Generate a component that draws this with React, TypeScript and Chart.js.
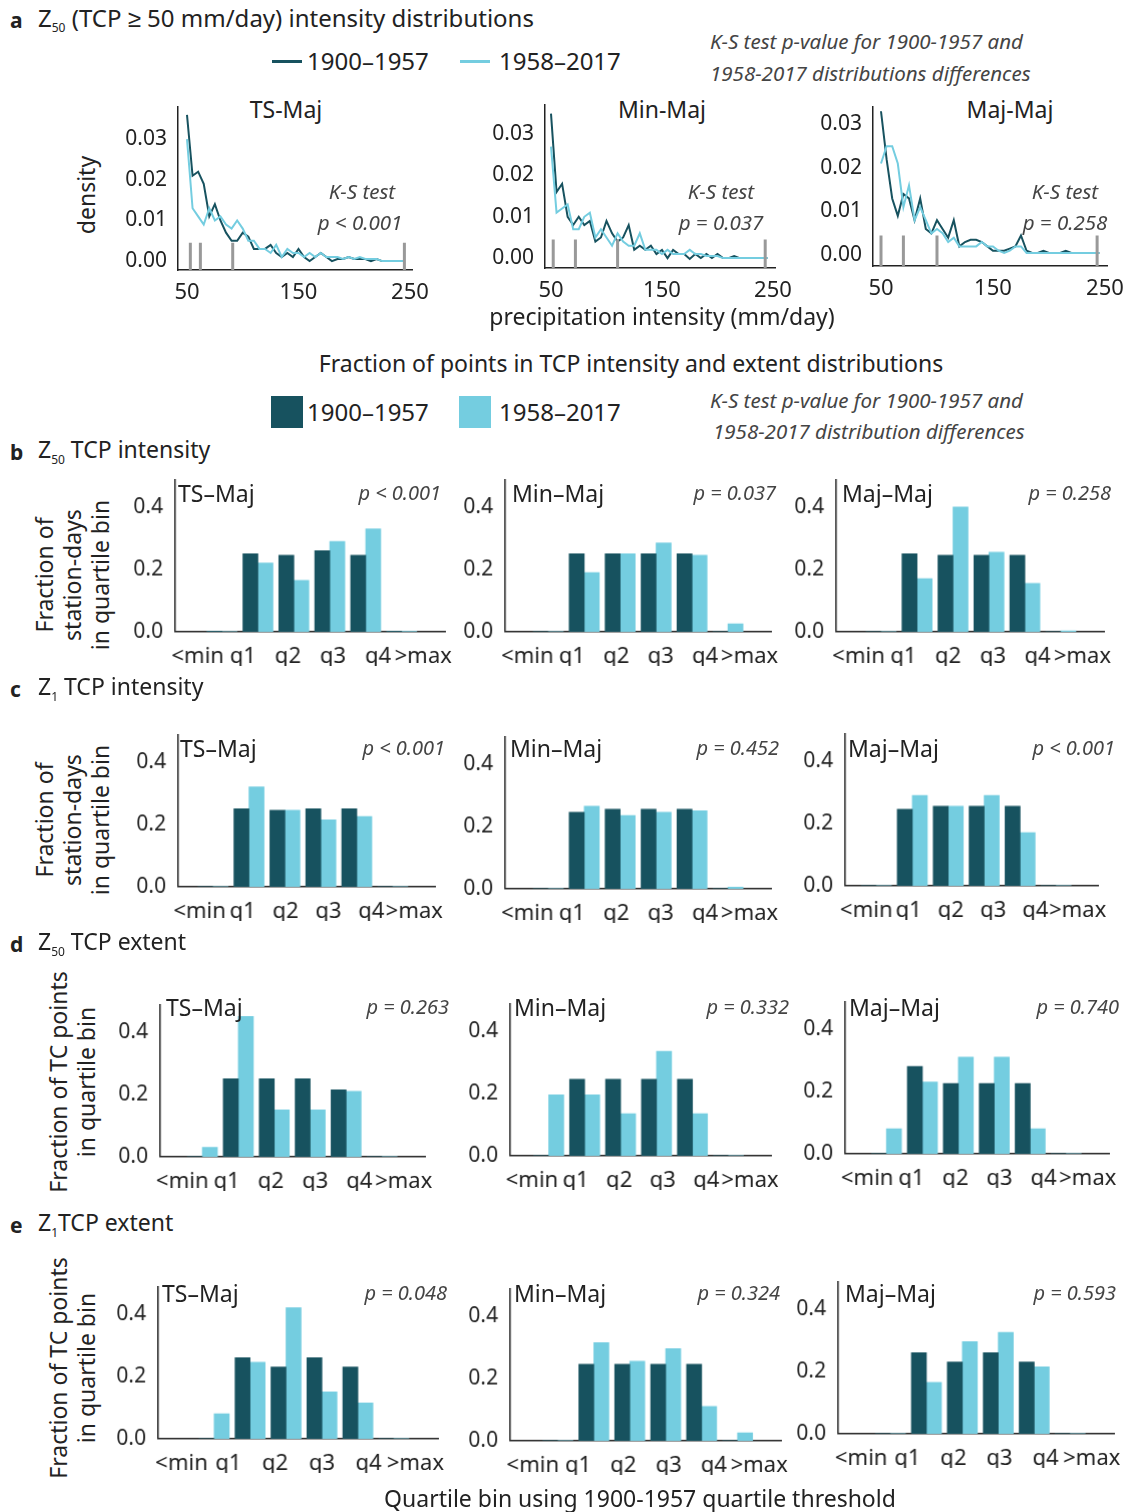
import React, { useEffect, useRef } from "react";
import { Chart, registerables } from "chart.js";
Chart.register(...registerables);

const DARK = "#17525f";
const LIGHT = "#74cde0";
const FONT = "'Noto Sans', sans-serif";
const TXT = "#222";

// ---- Panel a data (x from 50 to 245 step 5)
const xs = [50,55,60,65,70,75,80,85,90,95,100,105,110,115,120,125,130,135,140,145,150,155,160,165,170,175,180,185,190,195,200,205,210,215,220,225,230,235,240,245];
const tsDark = [0.036,0.021,0.022,0.019,0.011,0.014,0.010,0.007,0.005,0.005,0.007,0.006,0.003,0.003,0.003,0.004,0.002,0.001,0.002,0.001,0.003,0.001,0.000,0.001,0.002,0.001,0.000,0.0005,0.0005,0.001,0.0005,0.0005,0.0005,0,0.0005,0,0,0,0,0];
const tsLight = [0.030,0.013,0.011,0.009,0.013,0.010,0.011,0.009,0.008,0.010,0.008,0.005,0.005,0.003,0.003,0.002,0.004,0.001,0.003,0.002,0.002,0.001,0.002,0.001,0.002,0.001,0.001,0.001,0.0005,0.001,0.0005,0.001,0.0005,0.0005,0.0005,0,0,0,0,0];
const minDark = [0.035,0.016,0.018,0.010,0.008,0.010,0.008,0.009,0.004,0.005,0.009,0.006,0.004,0.005,0.008,0.002,0.003,0.002,0.003,0.001,0.002,0.000,0.002,0.001,0.001,-0.0002,0.001,0.000,0.001,0.000,0.001,0.000,0,0.0005,0,0,0,0,0,0];
const minLight = [0.027,0.011,0.012,0.013,0.007,0.007,0.010,0.011,0.005,0.007,0.005,0.003,0.006,0.004,0.003,0.003,0.006,0.002,0.002,0.002,0.001,0.002,0.001,0.001,0.001,0.002,0.001,0.001,0.0005,0.0005,0.0005,0,0,0,0,0,0,0,0,0];
const majDark = [0.033,0.022,0.013,0.009,0.014,0.013,0.008,0.013,0.006,0.005,0.008,0.006,0.004,0.008,0.002,0.003,0.0035,0.0035,0.003,0.002,0.001,0.001,0.001,0.0015,0.002,0.0045,0.001,0.0005,0.0005,0.001,0.0005,0.0005,0.0005,0.001,0.0005,0.0005,0.0005,0.0005,0.0005,0.0005];
const majLight = [0.021,0.025,0.025,0.021,0.011,0.016,0.008,0.011,0.008,0.005,0.006,0.005,0.003,0.004,0.002,0.002,0.002,0.002,0.003,0.002,0.002,0.001,0.0005,0.001,0.002,0.002,0.0005,0.0005,0.0005,0.0005,0.0005,0.0005,0.0005,0.0005,0.0005,0.0005,0.0005,0.0005,0.0005,0.0005];
const tsQ = [53, 62, 91, 245];
const minQ = [52, 72, 110, 243];
const majQ = [50, 70, 100, 243];

// ---- Bar data
const cats = ["<min", "q1", "q2", "q3", "q4", ">max"];
const bTsDark = [0.002, 0.25, 0.245, 0.26, 0.245, 0.002];
const bTsLight = [0, 0.22, 0.165, 0.29, 0.33, 0.001];
const bMinDark = [0, 0.25, 0.25, 0.25, 0.25, 0];
const bMinLight = [0, 0.19, 0.25, 0.285, 0.245, 0.025];
const bMajDark = [0, 0.25, 0.245, 0.245, 0.245, 0];
const bMajLight = [0, 0.17, 0.40, 0.255, 0.155, 0.003];
const cTsDark = [0, 0.25, 0.245, 0.25, 0.25, 0];
const cTsLight = [0, 0.32, 0.245, 0.215, 0.225, 0];
const cMinDark = [0, 0.245, 0.255, 0.255, 0.255, 0];
const cMinLight = [0, 0.265, 0.235, 0.245, 0.25, 0.005];
const cMajDark = [0, 0.245, 0.255, 0.255, 0.255, 0];
const cMajLight = [0, 0.29, 0.255, 0.29, 0.17, 0];
const dTsDark = [0, 0.25, 0.25, 0.25, 0.215, 0];
const dTsLight = [0.03, 0.45, 0.15, 0.15, 0.21, 0];
const dMinDark = [0, 0.245, 0.245, 0.245, 0.245, 0];
const dMinLight = [0.195, 0.195, 0.135, 0.335, 0.135, 0];
const dMajDark = [0, 0.28, 0.225, 0.225, 0.225, 0];
const dMajLight = [0.08, 0.23, 0.31, 0.31, 0.08, 0];
const eTsDark = [0, 0.26, 0.23, 0.26, 0.23, 0];
const eTsLight = [0.08, 0.245, 0.42, 0.15, 0.115, 0];
const eMinDark = [0, 0.245, 0.245, 0.245, 0.245, 0];
const eMinLight = [0, 0.315, 0.255, 0.295, 0.11, 0.025];
const eMajDark = [0, 0.26, 0.23, 0.26, 0.23, 0];
const eMajLight = [0, 0.165, 0.295, 0.325, 0.215, 0];

const YW = 58;
const XH = 34;
const PR = 30; // right padding
const PL = 14; // left padding for labels
const PB = 8;

function Plot({ left, top, width, height, config }: any) {
  const ref = useRef<HTMLCanvasElement>(null);
  useEffect(() => {
    const c = new Chart(ref.current!, config);
    return () => c.destroy();
  }, []);
  return (
    <div style={{ position: "absolute", left: left - YW - PL, top, width: width + YW + PL + PR, height: height + XH + PB }}>
      <canvas ref={ref} />
    </div>
  );
}

const noPadY = (s: any) => { s.width = YW; s.paddingTop = 0; s.paddingBottom = 0; };
const noPadX = (h: number) => (s: any) => { s.height = h; s.paddingLeft = 0; s.paddingRight = 0; };
const layout = { padding: { left: PL, right: PR, top: 0, bottom: PB } };

function axisCommon() {
  return {
    grid: { display: false },
    border: { color: "#222", width: 1.5 },
  };
}

function BarPlot({ axisX, y0, q1c, dark, light }: any) {
  const cw = 43;
  const xmin = 1 - (q1c - axisX) / cw;
  const xmax = 5.6;
  const width = (xmax - xmin) * cw;
  const ymax = 0.49;
  const height = ymax * 310;
  const config = {
    type: "bar",
    data: {
      labels: cats,
      datasets: [
        { xAxisID: "x", data: dark.map((v: number, i: number) => ({ x: i, y: v })), backgroundColor: DARK, barThickness: 15 },
        { xAxisID: "x", data: light.map((v: number, i: number) => ({ x: i, y: v })), backgroundColor: LIGHT, barThickness: 15 },
      ],
    },
    options: {
      animation: false, responsive: true, maintainAspectRatio: false,
      layout,
      plugins: { legend: { display: false }, tooltip: { enabled: false } },
      scales: {
        x: {
          type: "linear", min: xmin, max: xmax, ...axisCommon(),
          afterBuildTicks: (s: any) => { s.ticks = cats.map((_, i) => ({ value: i })); },
          afterFit: noPadX(0),
          ticks: { display: false },
        },
        x2: {
          type: "category", position: "bottom", offset: true,
          grid: { display: false }, border: { display: false },
          afterFit: noPadX(XH),
          ticks: { autoSkip: false, maxRotation: 0, padding: 4, color: TXT, font: { family: FONT, size: 22 } },
        },
        y: {
          min: 0, max: ymax, ...axisCommon(),
          afterBuildTicks: (s: any) => { s.ticks = [0, 0.2, 0.4].map((v) => ({ value: v })); },
          afterFit: noPadY,
          ticks: { padding: 4, color: TXT, font: { family: FONT, size: 21 }, callback: (v: number) => v.toFixed(1) },
        },
      },
    },
  };
  return <Plot left={axisX} top={y0 - height} width={width} height={height} config={config} />;
}

function LinePlot({ axisX, x50, x250, y0, y03, bottom, top, dark, light, qs }: any) {
  const pxu = (x250 - x50) / 200;
  const xmin = 50 - (x50 - axisX) / pxu;
  const xmax = 252;
  const width = (xmax - xmin) * pxu;
  const pyu = (y0 - y03) / 0.03;
  const ymin = -(bottom - y0) / pyu;
  const ymax = (y0 - top) / pyu;
  const height = bottom - top;
  const qsets = qs.map((q: number) => ({
    data: [{ x: q, y: ymin }, { x: q, y: 0.0045 }], borderColor: "#999", borderWidth: 3, pointRadius: 0,
  }));
  const config = {
    type: "line",
    data: {
      datasets: [
        ...qsets,
        { data: xs.map((x, i) => ({ x, y: light[i] })), borderColor: LIGHT, borderWidth: 2, pointRadius: 0 },
        { data: xs.map((x, i) => ({ x, y: dark[i] })), borderColor: DARK, borderWidth: 2, pointRadius: 0 },
      ],
    },
    options: {
      animation: false, responsive: true, maintainAspectRatio: false,
      layout,
      plugins: { legend: { display: false }, tooltip: { enabled: false } },
      scales: {
        x: {
          type: "linear", min: xmin, max: xmax, ...axisCommon(),
          afterBuildTicks: (s: any) => { s.ticks = [50, 150, 250].map((v) => ({ value: v })); },
          afterFit: noPadX(XH),
          ticks: { autoSkip: false, maxRotation: 0, padding: 2, color: TXT, font: { family: FONT, size: 22 } },
        },
        y: {
          min: ymin, max: ymax, ...axisCommon(),
          afterBuildTicks: (s: any) => { s.ticks = [0, 0.01, 0.02, 0.03].map((v) => ({ value: v })); },
          afterFit: noPadY,
          ticks: { padding: 3, color: TXT, font: { family: FONT, size: 21 }, callback: (v: number) => v.toFixed(2) },
        },
      },
    },
  };
  return <Plot left={axisX} top={top} width={width} height={height} config={config} />;
}

function T({ x, y, s = 23, it = false, c = TXT, center = false, right = false, bold = false, children }: any) {
  return (
    <div style={{
      position: "absolute", left: x, top: y, fontSize: s, fontStyle: it ? "italic" : "normal",
      fontWeight: bold ? 700 : 400, color: c, whiteSpace: "nowrap", lineHeight: 1,
      transform: `translate(${center ? "-50%" : right ? "-100%" : "0"}, -50%)`,
    }}>{children}</div>
  );
}

function Rot({ x, y, lines, s = 23 }: any) {
  return (
    <div style={{
      position: "absolute", left: x, top: y, fontSize: s, color: TXT, lineHeight: 1.22, textAlign: "center",
      whiteSpace: "nowrap", transform: "translate(-50%, -50%) rotate(-90deg)",
    }}>{lines.map((l: string, i: number) => <div key={i}>{l}</div>)}</div>
  );
}

const Z = ({ n }: any) => <span>Z<sub style={{ fontSize: 12 }}>{n}</sub></span>;

function Tag({ x, y, title, p, px }: any) {
  return (
    <>
      <T x={x} y={y} s={23}>{title}</T>
      <T x={px} y={y} s={20} it right c="#444">{p}</T>
    </>
  );
}

export default function App() {
  const g = "#444";
  return (
    <div style={{ position: "absolute", left: 0, top: 0, width: 1132, height: 1512, background: "#fff", fontFamily: FONT, overflow: "hidden" }}>
      {/* Panel a */}
      <T x={10} y={20} s={21} bold>a</T>
      <T x={38} y={20} s={24}><Z n="50" /> (TCP ≥ 50 mm/day) intensity distributions</T>
      <div style={{ position: "absolute", left: 272, top: 60, width: 30, height: 3, background: DARK }} />
      <T x={307} y={61} s={24}>1900–1957</T>
      <div style={{ position: "absolute", left: 460, top: 60, width: 30, height: 3, background: LIGHT }} />
      <T x={499} y={61} s={24}>1958–2017</T>
      <T x={710} y={41} s={20.5} it c={g}>K-S test p-value for 1900-1957 and</T>
      <T x={710} y={73} s={20.5} it c={g}>1958-2017 distributions differences</T>
      <T x={286} y={109} s={23} center>TS-Maj</T>
      <T x={662} y={109} s={23} center>Min-Maj</T>
      <T x={1010} y={109} s={23} center>Maj-Maj</T>
      <Rot x={86} y={195} lines={["density"]} />
      <LinePlot axisX={178} x50={187} x250={410} y0={261} y03={138} bottom={270} top={105} dark={tsDark} light={tsLight} qs={tsQ} />
      <LinePlot axisX={545} x50={551} x250={773} y0={258} y03={133} bottom={268} top={103} dark={minDark} light={minLight} qs={minQ} />
      <LinePlot axisX={873} x50={881} x250={1105} y0={255} y03={123} bottom={266} top={105} dark={majDark} light={majLight} qs={majQ} />
      <T x={362} y={191} s={20.5} it c={g} center>K-S test</T>
      <T x={360} y={222} s={20.5} it c={g} center>p &lt; 0.001</T>
      <T x={721} y={191} s={20.5} it c={g} center>K-S test</T>
      <T x={721} y={222} s={20.5} it c={g} center>p = 0.037</T>
      <T x={1065} y={191} s={20.5} it c={g} center>K-S test</T>
      <T x={1065} y={222} s={20.5} it c={g} center>p = 0.258</T>
      <T x={662} y={316} s={23} center>precipitation intensity (mm/day)</T>

      <T x={631} y={363} s={23} center>Fraction of points in TCP intensity and extent distributions</T>
      <div style={{ position: "absolute", left: 271, top: 396, width: 32, height: 32, background: DARK }} />
      <T x={307} y={412} s={24}>1900–1957</T>
      <div style={{ position: "absolute", left: 459, top: 396, width: 32, height: 32, background: LIGHT }} />
      <T x={499} y={412} s={24}>1958–2017</T>
      <T x={710} y={400} s={20.5} it c={g}>K-S test p-value for 1900-1957 and</T>
      <T x={713} y={431} s={20.5} it c={g}>1958-2017 distribution differences</T>

      {/* b */}
      <T x={10} y={452} s={21} bold>b</T>
      <T x={38} y={452} s={23}><Z n="50" /> TCP intensity</T>
      <Rot x={72} y={575} lines={["Fraction of", "station-days", "in quartile bin"]} />
      <BarPlot axisX={175} y0={631} q1c={247} dark={bTsDark} light={bTsLight} />
      <BarPlot axisX={505} y0={631} q1c={573} dark={bMinDark} light={bMinLight} />
      <BarPlot axisX={836} y0={631} q1c={906} dark={bMajDark} light={bMajLight} />
      <Tag x={178} y={493} title="TS–Maj" p="p < 0.001" px={441} />
      <Tag x={512} y={493} title="Min–Maj" p="p = 0.037" px={776} />
      <Tag x={842} y={493} title="Maj–Maj" p="p = 0.258" px={1111} />

      {/* c */}
      <T x={10} y={689} s={21} bold>c</T>
      <T x={38} y={689} s={23}><Z n="1" /> TCP intensity</T>
      <Rot x={72} y={820} lines={["Fraction of", "station-days", "in quartile bin"]} />
      <BarPlot axisX={178} y0={886} q1c={237} dark={cTsDark} light={cTsLight} />
      <BarPlot axisX={505} y0={888} q1c={573} dark={cMinDark} light={cMinLight} />
      <BarPlot axisX={845} y0={885} q1c={900} dark={cMajDark} light={cMajLight} />
      <Tag x={180} y={748} title="TS–Maj" p="p < 0.001" px={445} />
      <Tag x={510} y={748} title="Min–Maj" p="p = 0.452" px={779} />
      <Tag x={848} y={748} title="Maj–Maj" p="p < 0.001" px={1115} />

      {/* d */}
      <T x={10} y={944} s={21} bold>d</T>
      <T x={38} y={944} s={23}><Z n="50" /> TCP extent</T>
      <Rot x={72} y={1082} lines={["Fraction of TC points", "in quartile bin"]} />
      <BarPlot axisX={160} y0={1156} q1c={227} dark={dTsDark} light={dTsLight} />
      <BarPlot axisX={510} y0={1155} q1c={573} dark={dMinDark} light={dMinLight} />
      <BarPlot axisX={845} y0={1153} q1c={911} dark={dMajDark} light={dMajLight} />
      <Tag x={166} y={1007} title="TS–Maj" p="p = 0.263" px={449} />
      <Tag x={514} y={1007} title="Min–Maj" p="p = 0.332" px={789} />
      <Tag x={849} y={1007} title="Maj–Maj" p="p = 0.740" px={1119} />

      {/* e */}
      <T x={10} y={1225} s={21} bold>e</T>
      <T x={38} y={1225} s={23}><Z n="1" />TCP extent</T>
      <Rot x={72} y={1368} lines={["Fraction of TC points", "in quartile bin"]} />
      <BarPlot axisX={158} y0={1438} q1c={240} dark={eTsDark} light={eTsLight} />
      <BarPlot axisX={510} y0={1440} q1c={583} dark={eMinDark} light={eMinLight} />
      <BarPlot axisX={838} y0={1433} q1c={916} dark={eMajDark} light={eMajLight} />
      <Tag x={162} y={1293} title="TS–Maj" p="p = 0.048" px={447} />
      <Tag x={514} y={1293} title="Min–Maj" p="p = 0.324" px={780} />
      <Tag x={845} y={1293} title="Maj–Maj" p="p = 0.593" px={1116} />

      <T x={640} y={1498} s={23} center>Quartile bin using 1900-1957 quartile threshold</T>
    </div>
  );
}
